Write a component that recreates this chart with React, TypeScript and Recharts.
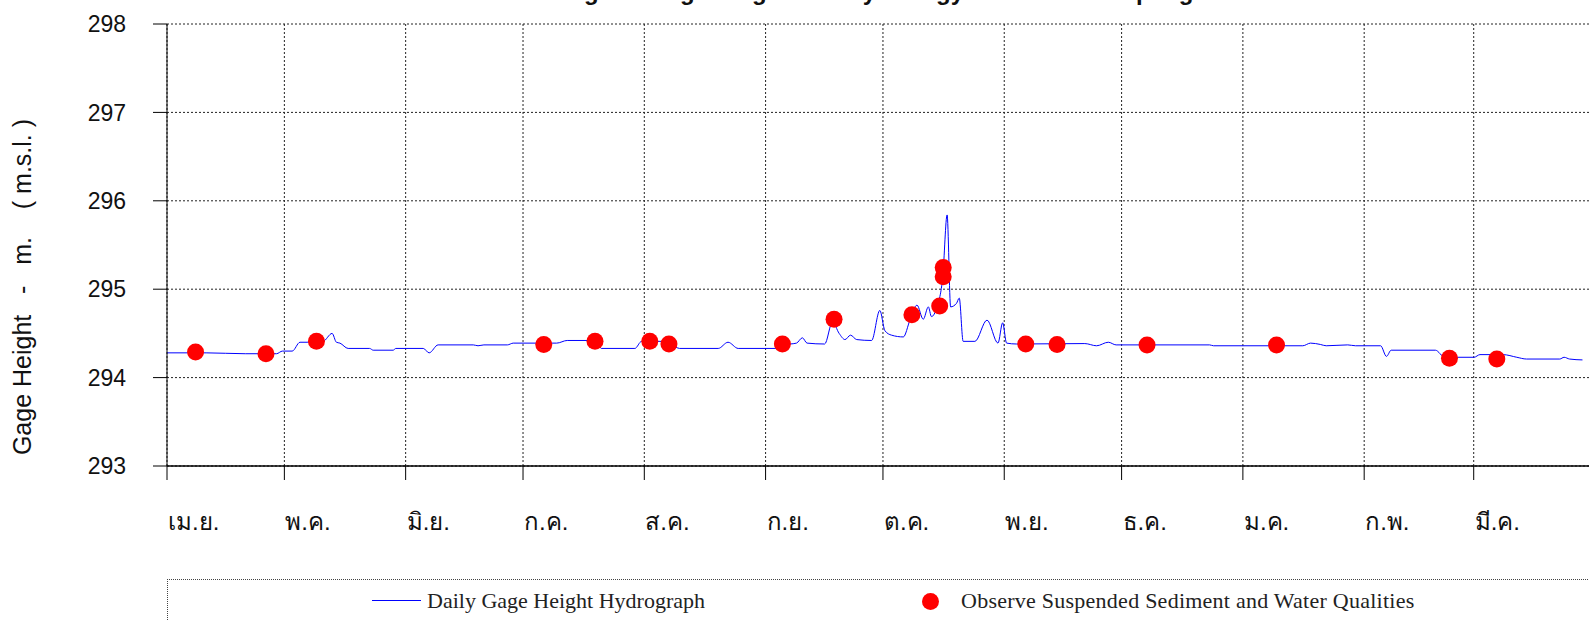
import { ComposedChart, Line, Scatter, XAxis, YAxis, CartesianGrid } from "recharts";

const MONTH_TICKS = [0, 30, 61, 91, 122, 153, 183, 214, 244, 275, 306, 334];
const MONTH_LABELS = ["เม.ย.", "พ.ค.", "มิ.ย.", "ก.ค.", "ส.ค.", "ก.ย.", "ต.ค.", "พ.ย.", "ธ.ค.", "ม.ค.", "ก.พ.", "มี.ค."];
const Y_TICKS = [293, 294, 295, 296, 297, 298];

// daily gage height hydrograph (day of water year from 1 Apr, m. msl)
const LINE_DAYS = [
  0, 10, 20, 28, 29.5, 32, 34, 36, 39.9, 42.2, 43.3, 44.2, 46.3, 51.8, 52.7, 57.8, 58.5, 65.5, 67, 69.3,
  78.3, 79.5, 81, 87, 88.5, 99.6, 102.3, 109.8, 111, 119.6, 121.3, 126, 128.5, 131, 140.9, 143.4, 146,
  155.4, 157.5, 160.9, 162.4, 163.6, 168.1, 170.1, 171.8, 173.3, 174.7, 176.3, 180.1, 182.2, 183.5,
  185.2, 188.2, 189.9, 191.7, 193.3, 194.6, 195.4, 196.8, 198.3, 199.4, 200.3, 201.8, 202.5, 203.5,
  206.5, 209.6, 212.4, 213.6, 214.6, 217.2, 234.6, 237.6, 240.6, 242.6, 266.5, 267.5, 290.3, 292.3,
  294.8, 296.3, 301.8, 303.8, 310.2, 311.7, 312.9, 324.2, 326.6, 334.1, 335.6, 341.5, 345, 347.5, 356,
  357.1, 358.5, 361.8,
];
const LINE_VALUES = [
  294.28, 294.28, 294.27, 294.27, 294.3, 294.3, 294.4, 294.4, 294.41, 294.5, 294.4, 294.39, 294.33, 294.33,
  294.31, 294.31, 294.33, 294.33, 294.28, 294.37, 294.37, 294.36, 294.37, 294.37, 294.39, 294.39, 294.42,
  294.42, 294.33, 294.33, 294.41, 294.41, 294.39, 294.33, 294.33, 294.4, 294.33, 294.33, 294.37, 294.39,
  294.45, 294.39, 294.38, 294.63, 294.5, 294.43, 294.48, 294.43, 294.42, 294.76, 294.53, 294.48, 294.46,
  294.65, 294.82, 294.66, 294.8, 294.69, 294.8, 295.15, 295.84, 294.8, 294.84, 294.9, 294.41, 294.41,
  294.65, 294.39, 294.62, 294.39, 294.38, 294.385, 294.36, 294.4, 294.37, 294.37, 294.36, 294.36, 294.39,
  294.375, 294.36, 294.37, 294.36, 294.36, 294.24, 294.31, 294.31, 294.23, 294.23, 294.26, 294.26, 294.23,
  294.21, 294.21, 294.23, 294.21, 294.2,
];

// sediment / water quality sampling
const SAMPLE_DAYS = [7.3, 25.3, 38.2, 96.3, 109.4, 123.4, 128.3, 157.3, 170.5, 190.4, 197.5, 198.4, 198.4, 219.5, 227.5, 250.5, 283.6, 327.8, 339.9];
const SAMPLE_VALUES = [294.29, 294.27, 294.41, 294.375, 294.41, 294.41, 294.38, 294.38, 294.66, 294.71, 294.81, 295.245, 295.14, 294.38, 294.375, 294.37, 294.37, 294.22, 294.21];

const lineData = LINE_DAYS.map((d, i) => ({ day: d, gage: LINE_VALUES[i] }));
const sampleData = SAMPLE_DAYS.map((d, i) => ({ day: d, gage: SAMPLE_VALUES[i] }));

const SANS = "'Liberation Sans', Arial, sans-serif";
const SERIF = "'Liberation Serif', 'Times New Roman', serif";

function MonthTick(props: any) {
  const { x, y, payload } = props;
  const idx = MONTH_TICKS.indexOf(payload.value);
  return (
    <text x={x + 1} y={y + 39} textAnchor="start" dominantBaseline="central" fontSize={24} fill="#111" fontFamily={SANS}>
      {MONTH_LABELS[idx]}
    </text>
  );
}

function Dot(props: any) {
  return <circle cx={props.cx} cy={props.cy} r={8.5} fill="#ff0000" />;
}

export default function App() {
  return (
    <div style={{ position: "absolute", left: 0, top: 0, width: 1589, height: 621, overflow: "hidden", background: "#fff" }}>
      {/* title sits mostly above the picture, only its descenders show */}
      <div
        style={{
          position: "absolute",
          left: 870,
          top: -20,
          transform: "translateX(-50%)",
          whiteSpace: "nowrap",
          fontFamily: SANS,
          fontWeight: "bold",
          fontSize: 24,
          lineHeight: "24px",
          color: "#111",
        }}
      >
        Stage of Gage Height and Hydrology Sediment Sampling
      </div>
      <ComposedChart width={1620} height={621} margin={{ top: 24, right: 25, bottom: 95, left: 0 }}>
        <CartesianGrid stroke="#222" strokeDasharray="2 2" />
        <XAxis
          dataKey="day"
          type="number"
          domain={[0, 365]}
          ticks={MONTH_TICKS}
          allowDataOverflow
          height={60}
          tickSize={14}
          tickLine={{ stroke: "#000" }}
          axisLine={{ stroke: "#000", strokeWidth: 1.5 }}
          tick={<MonthTick />}
        />
        <YAxis
          type="number"
          domain={[293, 298]}
          ticks={Y_TICKS}
          width={167}
          tickSize={14}
          tickMargin={27}
          tickLine={{ stroke: "#000" }}
          axisLine={{ stroke: "#000" }}
          tick={{ fontSize: 23, fill: "#111", fontFamily: SANS }}
          label={{
            content: () => (
              <text
                x={22}
                y={287}
                transform="rotate(-90 22 287)"
                textAnchor="middle"
                dominantBaseline="central"
                fontSize={25}
                fill="#111"
                fontFamily={SANS}
                style={{ whiteSpace: "pre" }}
              >
                {"Gage Height   -   m.    ( m.s.l. )"}
              </text>
            ),
          }}
        />
        <Line
          data={lineData}
          dataKey="gage"
          type="monotone"
          stroke="#0000ff"
          strokeWidth={1}
          dot={false}
          isAnimationActive={false}
        />
        <Scatter data={sampleData} dataKey="gage" shape={<Dot />} isAnimationActive={false} />
      </ComposedChart>
      <div
        style={{
          position: "absolute",
          left: 167,
          top: 579,
          width: 1500,
          height: 80,
          borderTop: "1px dotted #444",
          borderLeft: "1px dotted #444",
        }}
      />
      <div style={{ position: "absolute", left: 372, top: 600, width: 49, height: 1, background: "#0000ff" }} />
      <div
        style={{ position: "absolute", left: 427, top: 588, fontFamily: SERIF, fontSize: 22, lineHeight: "26px", color: "#222", whiteSpace: "nowrap" }}
      >
        Daily Gage Height Hydrograph
      </div>
      <div style={{ position: "absolute", left: 922, top: 593, width: 17, height: 17, borderRadius: "50%", background: "#ff0000" }} />
      <div
        style={{
          position: "absolute",
          left: 961,
          top: 588,
          fontFamily: SERIF,
          fontSize: 22,
          lineHeight: "26px",
          letterSpacing: 0.25,
          color: "#222",
          whiteSpace: "nowrap",
        }}
      >
        Observe Suspended Sediment and Water Qualities
      </div>
    </div>
  );
}
